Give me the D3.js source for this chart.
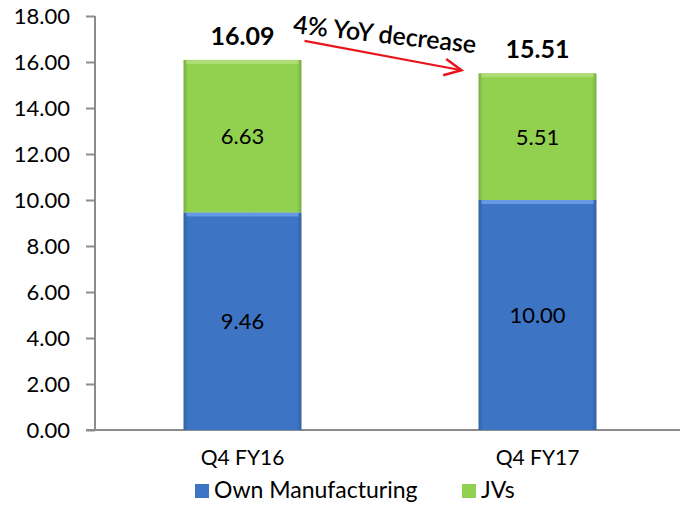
<!DOCTYPE html>
<html>
<head>
<meta charset="utf-8">
<script src="https://cdn.jsdelivr.net/npm/d3@7"></script>
<style>
  body { margin: 0; background: #fff; }
  svg { font-family: Lato, "Open Sans", sans-serif; }
</style>
</head>
<body>
<svg id="chart" width="680" height="506"></svg>
<script>
const categories = ['Q4 FY16', 'Q4 FY17'];
const ownManufacturing = [9.46, 10.00];
const jvs = [6.63, 5.51];
const totals = [16.09, 15.51];
const seriesNames = ['Own Manufacturing', 'JVs'];
const yTicks = [0, 2, 4, 6, 8, 10, 12, 14, 16, 18];
const annotation = '4% YoY decrease';

const svg = d3.select('#chart');
const margin = { top: 16, right: 0, bottom: 76, left: 95 },
  width = 680 - margin.left - margin.right + 5,
  height = 506 - margin.top - margin.bottom;

const defs = svg.append('defs');
function bevel(id, base) {
  const g = defs.append('linearGradient').attr('id', id)
    .attr('x1', 0).attr('x2', 1).attr('y1', 0).attr('y2', 0);
  const c = d3.color(base);
  g.append('stop').attr('offset', '0%').attr('stop-color', c.darker(0.5));
  g.append('stop').attr('offset', '4%').attr('stop-color', base);
  g.append('stop').attr('offset', '96%').attr('stop-color', base);
  g.append('stop').attr('offset', '100%').attr('stop-color', c.darker(0.5));
}
bevel('gBlue', '#3d74c4');
bevel('gGreen', '#92d050');

const x = d3.scaleBand()
  .domain(categories)
  .range([0, width])
  .paddingInner(0.6)
  .paddingOuter(0.3);

const y = d3.scaleLinear()
  .domain([0, 18])
  .range([height, 0]);

const g = svg.append('g')
  .attr('transform', 'translate(' + margin.left + ',' + margin.top + ')');

// axes
const yAxis = d3.axisLeft(y).tickValues(yTicks).tickFormat(d3.format('.2f')).tickSize(9).tickPadding(16);
g.append('g').attr('class', 'y axis').call(yAxis)
  .call(s => s.select('.domain').attr('stroke', '#8c8c8c').attr('stroke-width', 2).attr('d', 'M0,' + y(18) + 'V' + y(0)))
  .call(s => s.selectAll('.tick line').attr('stroke', '#8c8c8c').attr('stroke-width', 2))
  .call(s => s.selectAll('.tick text').attr('font-size', 22).attr('fill', '#000').attr('font-family', 'Lato'));

g.append('line')
  .attr('x1', -9).attr('x2', width)
  .attr('y1', y(0)).attr('y2', y(0))
  .attr('stroke', '#8c8c8c').attr('stroke-width', 2);

// stacked data
const rows = categories.map((c, i) => ({ cat: c, own: ownManufacturing[i], jv: jvs[i], total: totals[i] }));
const stack = d3.stack().keys(['own', 'jv'])(rows);
const fills = ['url(#gBlue)', 'url(#gGreen)'];
const tops = ['#6fa3e8', '#b5e07e'];
const labels = [ownManufacturing, jvs];

stack.forEach((layer, k) => {
  const lg = g.append('g');
  lg.selectAll('rect.bar').data(layer).join('rect')
    .attr('class', 'bar')
    .attr('x', d => x(d.data.cat))
    .attr('width', x.bandwidth())
    .attr('y', d => y(d[1]))
    .attr('height', d => y(d[0]) - y(d[1]))
    .attr('fill', fills[k]);
  // top highlight
  lg.selectAll('rect.hl').data(layer).join('rect')
    .attr('class', 'hl')
    .attr('x', d => x(d.data.cat) + 3)
    .attr('width', x.bandwidth() - 6)
    .attr('y', d => y(d[1]))
    .attr('height', 4)
    .attr('fill', tops[k])
    .attr('opacity', 0.8);
  lg.selectAll('text').data(layer).join('text')
    .attr('x', d => x(d.data.cat) + x.bandwidth() / 2)
    .attr('y', d => y((d[0] + d[1]) / 2))
    .attr('dy', '0.36em')
    .attr('text-anchor', 'middle')
    .attr('font-size', 22)
    .attr('fill', '#000')
    .text((d, i) => labels[k][i].toFixed(2));
});

// totals
g.selectAll('text.total').data(rows).join('text')
  .attr('class', 'total')
  .attr('x', d => x(d.cat) + x.bandwidth() / 2)
  .attr('y', d => y(d.total) - 15)
  .attr('text-anchor', 'middle')
  .attr('font-size', 25)
  .attr('font-weight', 'bold')
  .attr('fill', '#000')
  .text(d => d.total.toFixed(2));

// arrow annotation
const ax1 = x(categories[0]) + x.bandwidth() + 3, ay1 = y(totals[0]) - 19;
const ax2 = x(categories[1]) - 17, ay2 = y(totals[1]) - 3;
g.append('line')
  .attr('x1', ax1).attr('y1', ay1).attr('x2', ax2).attr('y2', ay2)
  .attr('stroke', '#e8151b').attr('stroke-width', 2.2);
const ang = Math.atan2(ay2 - ay1, ax2 - ax1);
const head = [-0.45, 0.45].map(a => [ax2 - 19 * Math.cos(ang + a), ay2 - 19 * Math.sin(ang + a)]);
g.append('path')
  .attr('d', 'M' + head[0] + 'L' + ax2 + ',' + ay2 + 'L' + head[1])
  .attr('fill', 'none').attr('stroke', '#e8151b').attr('stroke-width', 2.5);
g.append('text')
  .attr('transform', 'translate(' + (ax1 - 12) + ',' + (ay1 - 8) + ') rotate(' + (ang * 180 / Math.PI * 0.6) + ')')
  .attr('font-size', 25)
  .attr('font-weight', 600)
  .attr('fill', '#000')
  .text(annotation);

// x axis labels
g.selectAll('text.cat').data(categories).join('text')
  .attr('class', 'cat')
  .attr('x', d => x(d) + x.bandwidth() / 2)
  .attr('y', height + 35)
  .attr('text-anchor', 'middle')
  .attr('font-size', 21)
  .attr('fill', '#000')
  .text(d => d);

// legend
const legend = svg.append('g').attr('transform', 'translate(0,' + (margin.top + height + 68) + ')');
const legX = [195, 462];
const legFill = ['#3d74c4', '#92d050'];
seriesNames.forEach((n, i) => {
  legend.append('rect').attr('x', legX[i]).attr('y', -14).attr('width', 14).attr('height', 14)
    .attr('fill', legFill[i]);
  legend.append('text').attr('x', legX[i] + 19).attr('y', 0)
    .attr('font-size', 23).attr('fill', '#000').text(n);
});
</script>
</body>
</html>
